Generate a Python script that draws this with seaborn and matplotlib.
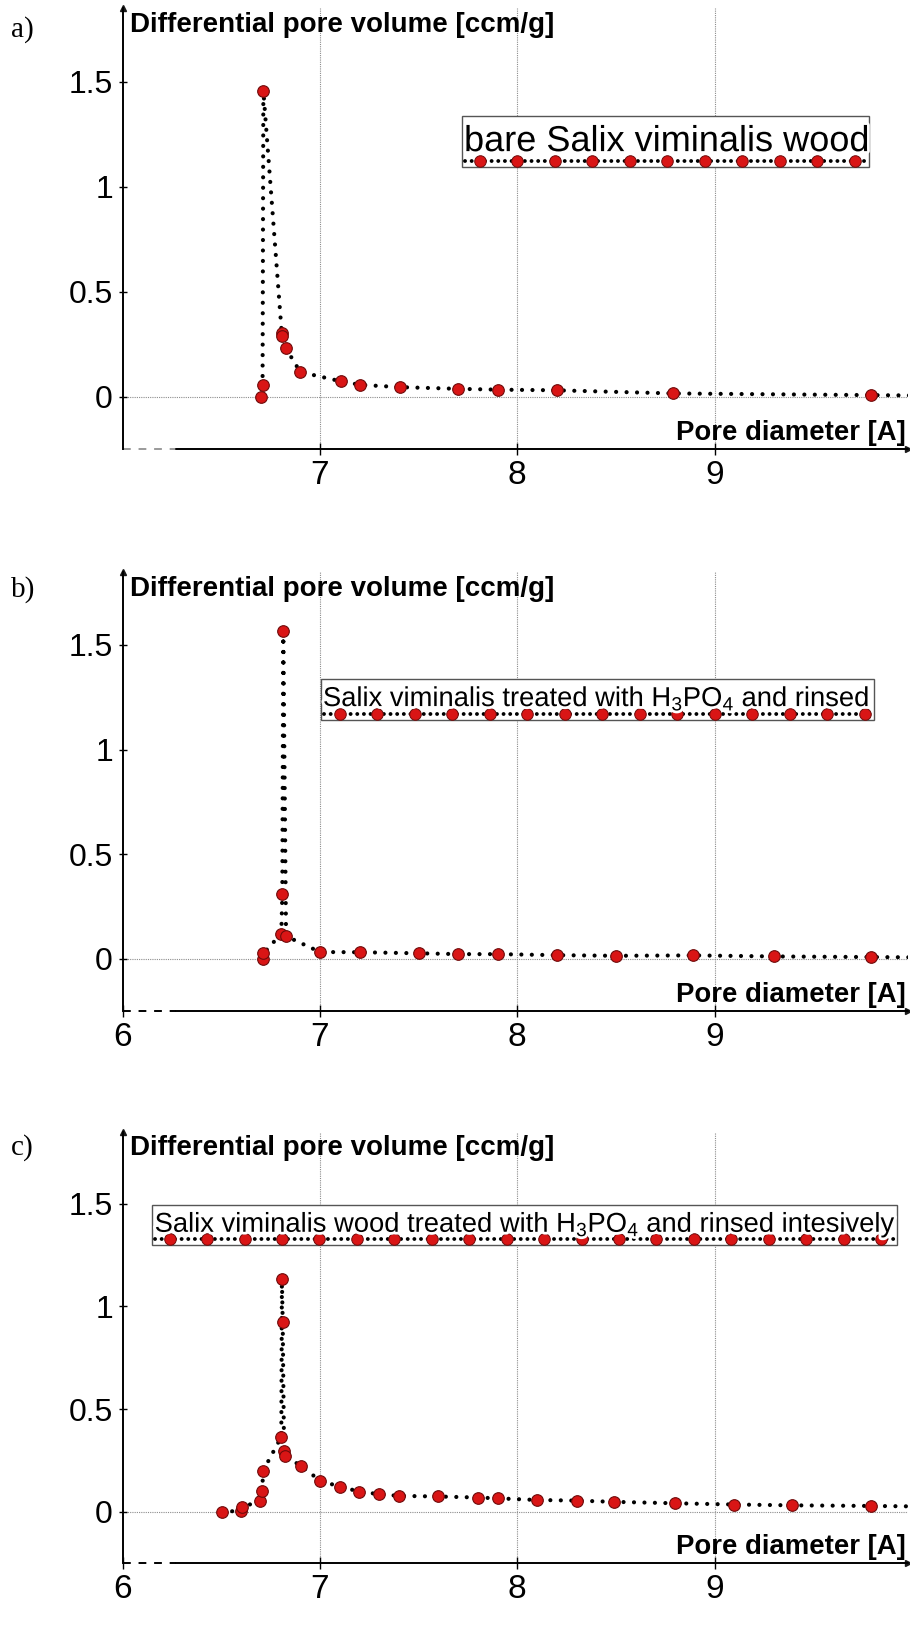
import numpy as np
import matplotlib
matplotlib.use('Agg')
import matplotlib.pyplot as plt
import matplotlib.patheffects as pe
from matplotlib.patches import Rectangle
from matplotlib.ticker import FuncFormatter
import seaborn as sns

sns.set_theme(style='white')
plt.rcParams['font.family'] = ['Liberation Sans', 'DejaVu Sans']
plt.rcParams['mathtext.fontset'] = 'custom'
plt.rcParams['mathtext.rm'] = 'Liberation Sans'
plt.rcParams['mathtext.default'] = 'regular'
for key in ['text.color', 'axes.labelcolor', 'xtick.color', 'ytick.color']:
    plt.rcParams[key] = 'black'

# ---- data ----
a_diam = [6.70, 6.709, 6.713, 6.806, 6.81, 6.826, 6.90, 7.105, 7.204, 7.404,
          7.70, 7.90, 8.20, 8.79, 9.79, 10.3]
a_vol = [0.0, 0.054, 1.457, 0.304, 0.29, 0.233, 0.118, 0.074, 0.057, 0.046,
         0.038, 0.034, 0.031, 0.016, 0.008, 0.004]

b_diam = [6.709, 6.713, 6.804, 6.809, 6.814, 6.828, 7.0, 7.204, 7.50, 7.70,
          7.90, 8.20, 8.50, 8.89, 9.30, 9.79, 10.3]
b_vol = [0.0, 0.025, 0.12, 0.31, 1.566, 0.108, 0.032, 0.031, 0.026, 0.022,
         0.022, 0.017, 0.014, 0.016, 0.011, 0.008, 0.005]

c_diam = [6.502, 6.60, 6.605, 6.698, 6.708, 6.711, 6.804, 6.807, 6.811, 6.818,
          6.823, 6.902, 7.0, 7.103, 7.20, 7.30, 7.40, 7.60, 7.80, 7.90,
          8.10, 8.30, 8.49, 8.80, 9.10, 9.39, 9.79, 10.3]
c_vol = [0.0, 0.006, 0.023, 0.054, 0.104, 0.199, 0.365, 1.134, 0.926, 0.297,
         0.271, 0.225, 0.152, 0.122, 0.099, 0.086, 0.078, 0.075, 0.070, 0.066,
         0.058, 0.055, 0.049, 0.042, 0.036, 0.032, 0.029, 0.024]

panel_tags = ['a)', 'b)', 'c)']
legend_texts = ['bare Salix viminalis wood',
                r'Salix viminalis treated with H$_3$PO$_4$ and rinsed',
                r'Salix viminalis wood treated with H$_3$PO$_4$ and rinsed intesively']
x_ticks = [[7, 8, 9], [6, 7, 8, 9], [6, 7, 8, 9]]
y_ticks = [0, 0.5, 1, 1.5]

# ---- layout (figure fractions) ----
axes_rects = [[0.1348, 0.7247, 0.863, 0.2702],
              [0.1348, 0.3805, 0.863, 0.2692],
              [0.1348, 0.0421, 0.863, 0.2645]]
tag_pos = [(0.012, 0.982), (0.012, 0.639), (0.012, 0.297)]
# legend box: x0, x1, y0, y1, text baseline, line y, n markers, marker x range, font size
legend_boxes = [
    (7.718, 9.782, 1.096, 1.337, 1.170, 1.124, 11, (7.81, 9.71), 26),
    (7.003, 9.81, 1.141, 1.337, 1.207, 1.172, 15, (7.10, 9.76), 19.7),
    (6.15, 9.924, 1.297, 1.492, 1.362, 1.326, 20, (6.238, 9.844), 19.7),
]

red = '#d91515'
red_edge = '#6e0a0a'
dot_style = dict(color='black', lw=3.0, linestyle=(0, (0.01, 2.5)),
                 dash_capstyle='round')
legend_dots = dict(color='black', lw=2.8, linestyle=(0, (0.01, 1.7)),
                   dash_capstyle='round')
grid_kw = dict(color='#8c8c8c', lw=0.8, linestyle=(0, (1, 1)))

fig = plt.figure(figsize=(9.1, 16.32), dpi=100)

series = [(a_diam, a_vol), (b_diam, b_vol), (c_diam, c_vol)]
for i, (xs, ys) in enumerate(series):
    ax = fig.add_axes(axes_rects[i])
    ax.set_xlim(6, 9.98)
    ax.set_ylim(-0.25, 1.85)

    # grid: vertical lines at ticks, horizontal only at zero
    for xv in [7, 8, 9]:
        ax.axvline(xv, zorder=0, **grid_kw)
    ax.axhline(0, zorder=0, **grid_kw)

    sns.lineplot(x=xs, y=ys, sort=False, estimator=None, ax=ax, zorder=2,
                 **dot_style)
    sns.scatterplot(x=xs, y=ys, ax=ax, s=70, color=red, edgecolor=red_edge,
                    linewidth=0.8, zorder=3)

    # spines with arrows
    for s in ['top', 'right', 'bottom']:
        ax.spines[s].set_visible(False)
    ax.spines['left'].set_color('black')
    ax.spines['left'].set_linewidth(1.4)
    ax.plot(0, 1, '^k', ms=5, transform=ax.transAxes, clip_on=False)
    ax.plot(1, 0, '>k', ms=5, transform=ax.transAxes, clip_on=False)
    dash_col = '#9a9a9a' if i == 0 else 'black'
    ax.plot([0, 0.068], [0, 0], transform=ax.transAxes, clip_on=False,
            color=dash_col, lw=1.4, linestyle=(0, (4, 4)))
    ax.plot([0.068, 1], [0, 0], transform=ax.transAxes, clip_on=False,
            color='black', lw=1.4)

    ax.set_xticks(x_ticks[i])
    ax.set_yticks(y_ticks)
    ax.yaxis.set_major_formatter(FuncFormatter(lambda v, p: f'{v:g}'))
    ax.tick_params(axis='y', direction='inout', length=6, width=1,
                   labelsize=23, pad=4, left=True, color='black')
    ax.tick_params(axis='x', direction='inout', length=8, width=1,
                   labelsize=24, pad=4, bottom=True, color='black')
    ax.set_xlabel('')
    ax.set_ylabel('')

    ax.text(0.009, 1.735, 'Differential pore volume [ccm/g]',
            transform=ax.get_yaxis_transform(),
            fontsize=20, fontweight='bold', ha='left', va='baseline')
    ax.text(0.997, -0.205, 'Pore diameter [A]',
            transform=ax.get_yaxis_transform(),
            fontsize=19.8, fontweight='bold', ha='right', va='baseline')

    # legend box: label on top, line sample underneath
    x0, x1, y0, y1, tb, ly, nm, (mx0, mx1), fs = legend_boxes[i]
    ax.add_patch(Rectangle((x0, y0), x1 - x0, y1 - y0, fill=True,
                           facecolor='white', edgecolor='#555555', lw=1.0,
                           zorder=4))
    ax.plot([x0 + 0.015, x1 - 0.015], [ly, ly], zorder=5, **legend_dots)
    ax.plot(np.linspace(mx0, mx1, nm), [ly] * nm, 'o', ms=8.3, color=red,
            mec=red_edge, mew=0.7, zorder=6)
    ax.text(x0 + 0.012, tb, legend_texts[i], fontsize=fs, ha='left',
            va='baseline', zorder=7,
            path_effects=[pe.withStroke(linewidth=4, foreground='white')])

    fig.text(*tag_pos[i], panel_tags[i], fontsize=21, family='Liberation Serif',
             ha='left', va='center')

fig.savefig('out.png', dpi=100)
